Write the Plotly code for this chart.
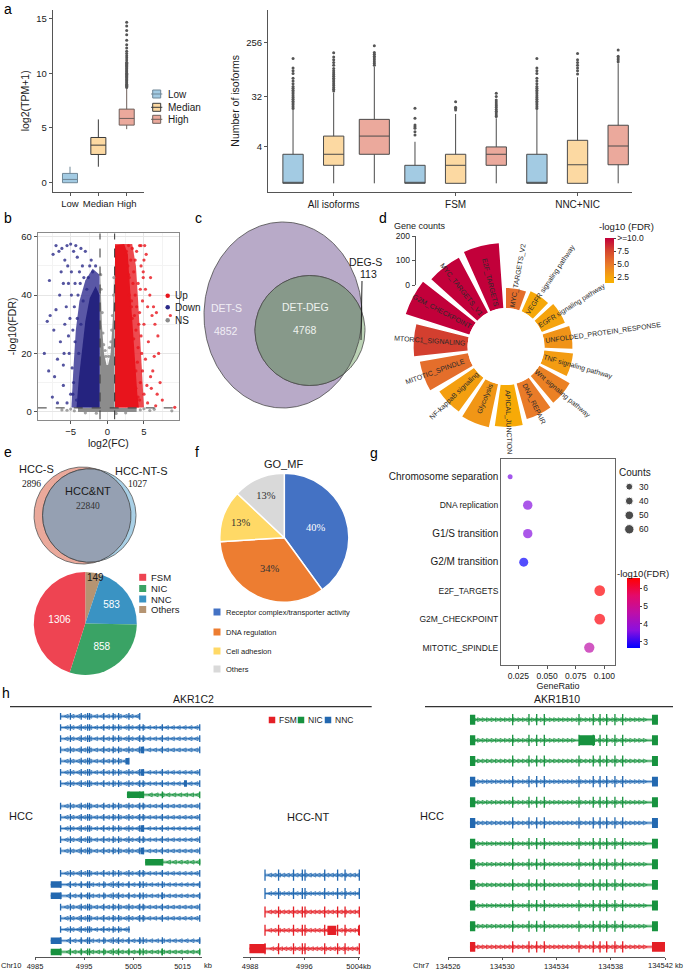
import numpy as np
import plotly.graph_objects as go

W, H = 685, 972
FONT = "Arial, Liberation Sans, Helvetica, sans-serif"
SERIF = "Times New Roman, Liberation Serif, serif"
INK = "#1a1a1a"

# ============================ DATA ============================
# ---- a (left): log2(TPM+1) by expression level
a1_levels = ["Low", "Median", "High"]
a1_q1 = [0.00, 2.58, 5.26]
a1_med = [0.30, 3.43, 5.87]
a1_q3 = [0.85, 4.13, 6.72]
a1_lo = [0.00, 1.46, 4.89]
a1_hi = [1.46, 5.78, 8.60]
a1_high_out = [8.70, 8.80, 8.90, 9.00, 9.10, 9.20, 9.30, 9.40, 9.50, 9.60, 9.70, 9.80,
               9.90, 10.00, 10.10, 10.20, 10.30, 10.40, 10.50, 10.60, 10.70, 10.80, 10.90,
               11.00, 11.20, 11.40, 11.60, 11.80, 12.00, 12.30, 12.60, 13.00, 13.50, 13.90,
               14.30, 14.65]

# ---- a (right): number of isoforms (values on log2(n+1) scale), Low/Median/High per group
a2_groups = ["All isoforms", "FSM", "NNC+NIC"]
a2_tick_counts = [4, 32, 256]
a2_q1 = [0.33, 1.31, 1.91, 0.33, 0.33, 1.31, 0.33, 0.33, 1.34]
a2_med = [0.33, 1.91, 2.90, 0.33, 1.31, 1.91, 0.33, 1.34, 2.36]
a2_q3 = [1.91, 2.90, 3.81, 1.31, 1.91, 2.31, 1.91, 2.67, 3.49]
a2_lo = [0.33, 0.33, 0.33, 0.33, 0.33, 0.33, 0.33, 0.33, 0.33]
a2_hi = [4.32, 5.26, 6.67, 2.59, 4.10, 3.87, 4.32, 6.10, 6.86]
a2_out = [
    [4.4, 4.5, 4.6, 4.7, 4.8, 4.9, 5.0, 5.1, 5.2, 5.3, 5.4, 5.5, 5.6, 5.75, 5.9, 6.05, 6.3, 6.45, 6.6, 7.12],
    [5.35, 5.45, 5.55, 5.65, 5.75, 5.85, 5.95, 6.05, 6.15, 6.25, 6.35, 6.45, 6.58, 6.75, 6.9, 7.05, 7.2, 7.44],
    [6.75, 6.85, 6.95, 7.05, 7.15, 7.25, 7.35, 7.45, 7.82],
    [2.96, 3.14, 3.32, 3.41, 3.5, 3.87, 4.41],
    [4.32, 4.4, 4.47, 4.77],
    [3.96, 4.05, 4.15, 4.25, 4.35, 4.45, 4.55, 4.65, 4.75, 4.86, 5.05, 5.23],
    [4.4, 4.5, 4.6, 4.7, 4.8, 4.9, 5.0, 5.1, 5.2, 5.3, 5.4, 5.5, 5.6, 5.75, 5.9, 6.05, 6.3, 6.45, 6.6, 7.12],
    [6.28, 6.45, 6.6, 6.75, 6.9, 7.05, 7.4],
    [6.95, 7.05, 7.15, 7.25, 7.58],
]

# ---- b: volcano (log2FC, -log10 FDR)
fc_cut = 1.0
fdr_cut = 1.3
up_dense = [(1.05, 1.4), (1.05, 57.0), (2.3, 57.5), (2.8, 54.0), (3.0, 46.0), (3.2, 38.0),
            (3.5, 26.0), (3.8, 15.0), (4.1, 6.0), (4.3, 1.4)]
up_mid = [(1.05, 1.4), (1.05, 57.5), (3.4, 57.5), (3.9, 50.0), (4.2, 38.0), (4.5, 24.0),
          (4.8, 12.0), (5.0, 1.4)]
down_dense = [(-1.05, 1.4), (-1.05, 40.0), (-1.6, 43.0), (-2.4, 39.0), (-3.0, 31.0), (-3.5, 21.0),
              (-3.9, 11.0), (-4.2, 1.4)]
down_mid = [(-1.05, 1.4), (-1.05, 47.0), (-2.0, 49.0), (-3.0, 45.0), (-3.8, 38.0), (-4.3, 28.0),
            (-4.6, 16.0), (-4.8, 5.0), (-4.9, 1.4)]
ns_dense = [(-1.0, 1.3), (-0.98, 50.0), (-0.75, 30.0), (-0.45, 20.0), (-0.1, 16.0), (0.1, 16.0),
            (0.45, 20.0), (0.75, 32.0), (0.98, 52.0), (1.0, 1.3), (4.0, 1.3), (4.0, -0.1),
            (-4.0, -0.1), (-4.0, 1.3)]
up_pts = [(4.5, 10), (5.0, 6), (5.5, 3), (6.0, 8), (4.8, 14), (5.2, 18), (4.2, 22), (4.6, 26), (5.0, 30),
          (4.4, 34), (3.8, 40), (4.2, 44), (3.6, 48), (3.2, 52), (4.0, 55), (4.6, 57), (3.4, 56), (2.9, 57),
          (5.6, 24), (6.2, 14), (6.8, 6), (7.2, 10), (6.5, 30), (6.7, 34), (6.3, 36), (8.6, 33), (5.9, 46),
          (5.0, 52), (7.0, 20), (5.8, 40), (4.9, 48), (5.3, 54), (4.9, 46), (5.5, 36), (3.9, 28), (4.1, 17),
          (3.7, 33), (3.5, 44), (2.8, 50), (3.0, 46), (3.3, 38), (6.6, 2), (7.5, 4), (9.2, 1.5), (5.9, 12),
          (4.4, 4), (3.9, 8), (4.4, 57), (5.1, 57), (2.6, 55), (2.5, 54), (2.9, 47), (3.3, 36), (3.6, 25),
          (3.9, 14), (4.2, 5), (3.0, 40), (3.4, 32), (4.7, 20), (4.3, 30), (4.0, 36), (5.2, 42), (4.6, 50),
          (6.1, 33), (6.4, 19), (5.4, 9), (6.9, 26), (4.8, 38), (3.8, 52), (4.5, 42)]
down_pts = [(-4.6, 10), (-5.0, 6), (-5.5, 3), (-6.0, 9), (-4.8, 15), (-5.2, 20), (-4.4, 24), (-4.7, 28),
            (-5.1, 32), (-4.5, 36), (-4.0, 40), (-4.4, 44), (-3.8, 48), (-3.4, 50), (-4.1, 53), (-4.6, 55),
            (-5.5, 57), (-5.0, 57.5), (-5.8, 52), (-6.3, 48), (-6.6, 55), (-7.4, 54), (-6.5, 40), (-7.0, 35),
            (-7.8, 33), (-8.2, 31), (-8.6, 20), (-7.2, 12), (-6.4, 24), (-5.8, 30), (-5.3, 44), (-4.9, 48),
            (-3.2, 46), (-2.8, 42), (-2.0, 48), (-2.4, 50), (-3.0, 55), (-3.6, 56), (-6.0, 16), (-7.5, 5),
            (-6.8, 3), (-4.2, 4), (-3.9, 20), (-3.6, 30), (-3.3, 38), (-2.6, 46), (-5.6, 36), (-6.2, 56),
            (-4.3, 57), (-7.9, 45), (-8.0, 14), (-7.0, 57), (-6.0, 44), (-5.4, 50), (-4.9, 40), (-5.3, 26),
            (-6.8, 18), (-7.3, 28), (-5.9, 20), (-4.7, 6), (-3.7, 44), (-2.2, 52), (-1.6, 50), (-4.1, 32)]
ns_pts = [(-5.5, 0.5), (-5.0, 0.9), (-4.5, 0.3), (4.5, 0.6), (5.0, 1.0), (5.8, 0.4), (6.4, 0.8),
          (8.8, 0.3), (-6.2, 0.6), (0.3, 22), (-0.3, 21), (0.6, 28), (-0.6, 27), (0.85, 40), (-0.85, 42),
          (0.9, 46), (-0.9, 47), (0.2, 19), (-0.2, 19), (0.5, 24), (-0.5, 23), (0.7, 33), (-0.7, 34),
          (-3.0, -0.4), (2.5, -0.4), (-1.5, -0.5), (1.2, -0.6)]

# ---- c: Venn of DET / DEG
c_labels = ["DET-S", "DET-DEG", "DEG-S"]
c_counts = [4852, 4768, 113]

# ---- d: circular enrichment barplot
d_terms = ["MYC_TARGETS_V2", "VEGFR signaling pathway", "EGFR signaling pathway",
           "UNFOLDED_PROTEIN_RESPONSE", "TNF signaling pathway", "Wnt signaling pathway",
           "DNA_REPAIR", "APICAL_JUNCTION", "Glycolysis", "NF-kappaB signaling",
           "MITOTIC_SPINDLE", "MTORC1_SIGNALING", "G2M_CHECKPOINT", "MYC_TARGETS_V1", "E2F_TARGETS"]
d_counts = [82, 90, 102, 114, 118, 143, 151, 171, 180, 171, 200, 220, 273, 253, 265]
d_fdr = [5.5, 2.2, 2.6, 3.5, 3.0, 4.5, 4.8, 2.0, 3.3, 2.8, 5.5, 7.8, 10.0, 10.0, 10.0]
d_count_ticks = [0, 100, 200]
d_fdr_ticks = [2.5, 5.0, 7.5, 10.0]
d_fdr_ticktext = ["2.5", "5.0", "7.5", ">=10.0"]

# ---- e: Venn + pie
e_sets = ["HCC-S", "HCC&NT", "HCC-NT-S"]
e_counts = [2896, 22840, 1027]
e_pie_labels = ["Others", "NNC", "NIC", "FSM"]
e_pie_values = [149, 583, 858, 1306]
e_legend_order = ["FSM", "NIC", "NNC", "Others"]

# ---- f: GO_MF pie
f_labels = ["Receptor complex/transporter activity", "DNA regulation", "Cell adhesion", "Others"]
f_values = [40, 34, 13, 13]

# ---- g: dot plot
g_terms = ["Chromosome separation", "DNA replication", "G1/S transition", "G2/M transition",
           "E2F_TARGETS", "G2M_CHECKPOINT", "MITOTIC_SPINDLE"]
g_ratio = [0.0178, 0.0332, 0.0332, 0.0297, 0.0959, 0.0959, 0.0868]
g_counts = [12, 48, 48, 44, 63, 63, 58]
g_fdr = [3.5, 3.6, 3.6, 2.7, 6.5, 6.45, 4.6]
g_count_legend = [30, 40, 50, 60]
g_xticks = [0.025, 0.050, 0.075, 0.100]

# ---- h: isoform structures (kb)
akr1c2_exons = [4990.2, 4992.2, 4994.4, 4995.7, 4996.1, 4999.0, 5000.9, 5002.0, 5004.1,
                5006.3, 5007.0, 5010.9, 5018.5]
akr1c2_hcc = [
    ("NNC", 4990.2, 5006.3, []),
    ("NNC", 4990.2, 5018.5, []),
    ("NNC", 4990.2, 5018.5, []),
    ("NNC", 4990.2, 5018.5, [(5006.5, 5007.2)]),
    ("NNC", 4990.2, 5004.1, [(5003.4, 5004.1)]),
    ("NNC", 4990.2, 5018.5, [(5006.5, 5007.2)]),
    ("NNC", 4990.2, 5018.5, [(5015.3, 5015.9)]),
    ("NIC", 5003.7, 5018.5, [(5003.7, 5007.2)]),
    ("NNC", 4990.2, 5018.5, []),
    ("NNC", 4990.2, 5018.5, []),
    ("NNC", 4990.2, 5018.5, [(5006.5, 5007.2)]),
    ("NNC", 4990.2, 5018.5, []),
    ("NNC", 4990.2, 5018.5, [(5006.5, 5007.2)]),
    ("NIC", 5007.4, 5018.5, [(5007.4, 5011.1)]),
    ("NNC", 4990.2, 5018.5, []),
    ("NNC", 4988.2, 5018.5, [(4988.2, 4990.4)]),
    ("NNC", 4988.2, 5018.5, [(4988.2, 4990.4), (5010.7, 5011.0)]),
    ("NNC", 4990.2, 5018.5, []),
    ("NNC", 4990.2, 5018.5, []),
    ("NNC", 4990.2, 5004.3, []),
    ("NNC", 4988.2, 5018.5, [(4988.2, 4990.4)]),
    ("NIC", 4988.2, 5018.5, [(4988.2, 4990.4), (5010.7, 5011.0)]),
]
akr1c2_nt = [
    ("NNC", 4990.2, 5004.1, []),
    ("NNC", 4990.2, 5004.1, []),
    ("FSM", 4990.2, 5004.1, []),
    ("FSM", 4990.2, 5004.1, [(4999.4, 5000.7), (5003.9, 5004.1)]),
    ("FSM", 4987.9, 5004.1, [(4987.9, 4990.3)]),
]
akr1b10_exons = [134530.77, 134531.97, 134532.54, 134533.10, 134535.66, 134536.71, 134537.21,
                 134537.70, 134538.31, 134538.88]
akr1b10_first = (134527.62, 134528.01)
akr1b10_last = (134541.04, 134541.48)
akr1b10_types = ["NIC", "NIC", "NIC", "NNC", "NIC", "NNC", "NIC", "NIC", "NIC", "NIC", "NIC", "FSM"]
akr1b10_extra = {2: [(134535.66, 134536.84)], 12: [(134541.04, 134542.0)]}
akr1b10_ticks = [134526, 134530, 134534, 134538, 134542]

# ============================ HELPERS ============================
def dx(a, b):
    return [a / W, b / W]

def dy(top, bottom):
    return [1 - bottom / H, 1 - top / H]

fig = go.Figure()
ann = []

def T(x, y, s, size=10, color=INK, family=FONT, xa="center", ya="middle", angle=0):
    ann.append(dict(x=x, y=y, xref="x12", yref="y12", text=s, showarrow=False,
                    font=dict(size=size, color=color, family=family),
                    xanchor=xa, yanchor=ya, textangle=angle))

def OV(**kw):
    kw.setdefault("hoverinfo", "skip")
    kw.setdefault("showlegend", False)
    fig.add_trace(go.Scatter(xaxis="x12", yaxis="y12", **kw))

def ax(**kw):
    base = dict(showgrid=False, zeroline=False, showline=True, linecolor="#555", linewidth=1,
                ticks="outside", ticklen=3, tickcolor="#555", automargin=False, tickangle=0,
                tickfont=dict(size=9.5, color=INK, family=FONT))
    base.update(kw)
    return base

LVL_FILL = ["#a3cbe3", "#fcd9a2", "#eba99c"]
LVL_LINE = ["#6f8797", "#3a3a3a", "#6e5f5b"]

# ============================ a (left) ============================
for i, lev in enumerate(a1_levels):
    fig.add_trace(go.Box(x=[i + 1], q1=[a1_q1[i]], median=[a1_med[i]], q3=[a1_q3[i]],
                         lowerfence=[a1_lo[i]], upperfence=[a1_hi[i]], fillcolor=LVL_FILL[i],
                         line=dict(color=LVL_LINE[i], width=1), width=0.53, whiskerwidth=0,
                         boxpoints=False, xaxis="x", yaxis="y", showlegend=False, hoverinfo="skip"))
fig.add_trace(go.Scatter(x=[3] * len(a1_high_out), y=a1_high_out, mode="markers",
                         marker=dict(size=3, color="#555"), xaxis="x", yaxis="y",
                         showlegend=False, hoverinfo="skip"))

# ============================ a (right) ============================
a2_pos = list(range(1, 10))
for j in range(9):
    wdt = 0.74 if j == 2 else 0.5
    fig.add_trace(go.Box(x=[a2_pos[j]], q1=[a2_q1[j]], median=[a2_med[j]], q3=[a2_q3[j]],
                         lowerfence=[a2_lo[j]], upperfence=[a2_hi[j]], fillcolor=LVL_FILL[j % 3],
                         line=dict(color="#4a4a4a", width=1), width=wdt, whiskerwidth=0,
                         boxpoints=False, xaxis="x2", yaxis="y2", showlegend=False, hoverinfo="skip"))
    fig.add_trace(go.Scatter(x=[a2_pos[j]] * len(a2_out[j]), y=a2_out[j], mode="markers",
                             marker=dict(size=3, color="#555"), xaxis="x2", yaxis="y2",
                             showlegend=False, hoverinfo="skip"))

# ============================ b volcano ============================
def poly(pts, color, op):
    xs = [p[0] for p in pts] + [pts[0][0]]
    ys = [p[1] for p in pts] + [pts[0][1]]
    fig.add_trace(go.Scatter(x=xs, y=ys, fill="toself", fillcolor=color, opacity=op, mode="lines",
                             line=dict(width=0), xaxis="x3", yaxis="y3", showlegend=False,
                             hoverinfo="skip"))

def pts_trace(pts, color):
    fig.add_trace(go.Scatter(x=[p[0] for p in pts], y=[p[1] for p in pts], mode="markers",
                             marker=dict(size=3.2, color=color, opacity=0.8), xaxis="x3", yaxis="y3",
                             showlegend=False, hoverinfo="skip"))

poly(ns_dense, "#8c8c8c", 1.0)
poly(up_mid, "#ea2a30", 0.85)
poly(down_mid, "#3d3b96", 0.85)
poly(up_dense, "#e8141c", 1.0)
poly(down_dense, "#25237f", 1.0)
pts_trace(ns_pts, "#8c8c8c")
pts_trace(up_pts, "#e8141c")
pts_trace(down_pts, "#2b2a88")
for xv in (-fc_cut, fc_cut):
    fig.add_trace(go.Scatter(x=[xv, xv], y=[-2.68, 61.2], mode="lines",
                             line=dict(color="#333", width=1, dash="dash"), xaxis="x3", yaxis="y3",
                             showlegend=False, hoverinfo="skip"))
fig.add_trace(go.Scatter(x=[-9.5, 9.78], y=[fdr_cut, fdr_cut], mode="lines",
                         line=dict(color="#333", width=1, dash="dash"), xaxis="x3", yaxis="y3",
                         showlegend=False, hoverinfo="skip"))

# ============================ c Venn ============================
def ell(cx, cy, rx, ry, n=360):
    t = np.linspace(0, 2 * np.pi, n)
    return cx + rx * np.cos(t), cy + ry * np.sin(t)

def lens(a, b):
    x1, y1 = ell(*a, n=720)
    x2, y2 = ell(*b, n=720)
    in1 = ((x1 - b[0]) / b[2]) ** 2 + ((y1 - b[1]) / b[3]) ** 2 <= 1
    in2 = ((x2 - a[0]) / a[2]) ** 2 + ((y2 - a[1]) / a[3]) ** 2 <= 1
    xs = np.concatenate([x1[in1], x2[in2]])
    ys = np.concatenate([y1[in1], y2[in2]])
    o = np.argsort(np.arctan2(ys - ys.mean(), xs - xs.mean()))
    xs, ys = xs[o], ys[o]
    return list(xs) + [xs[0]], list(ys) + [ys[0]]

def fill_shape(xs, ys, fc, lc="#4a4a4a", lw=0.8):
    OV(x=list(xs), y=list(ys), mode="lines", fill="toself", fillcolor=fc, line=dict(color=lc, width=lw))

C_DET = (283.0, 315.0, 79.0, 93.0)
C_DEG = (310.0, 330.5, 55.0, 55.0)
fill_shape(*ell(*C_DET), "#b8aac8")
fill_shape(*ell(*C_DEG), "#bcd3b6")
fill_shape(*lens(C_DET, C_DEG), "#87998a")
T(226, 308, c_labels[0], 10.5, "#f1eef5")
T(226, 331, f"{c_counts[0]}", 10.5, "#f1eef5")
T(305, 307, c_labels[1], 10.5, "#eef2ee")
T(305, 330, f"{c_counts[1]}", 10.5, "#eef2ee")
T(365, 262, c_labels[2], 10.5)
T(368, 274, f"{c_counts[2]}", 10.5)
OV(x=[362, 361], y=[281, 340], mode="lines", line=dict(color="#222", width=1))

# ============================ d circular bars ============================
CX, CY, R_IN, R_OUT = 506.0, 346.5, 38.5, 110.5
R_MAX = 294.0
d_theta = [10 + 24 * i for i in range(len(d_terms))]
d_scale = [[0.0, "#f9b200"], [0.15, "#f5a20e"], [0.42, "#e8782a"], [0.72, "#d5452e"], [1.0, "#c2003a"]]
fig.add_trace(go.Barpolar(r=d_counts, theta=d_theta, width=[20] * len(d_terms),
                          marker=dict(color=d_fdr, colorscale=d_scale, cmin=1.35, cmax=10.0,
                                      line=dict(width=0), showscale=True,
                                      colorbar=dict(x=605 / W, xanchor="left", y=1 - 260.5 / H,
                                                    yanchor="middle", len=45, lenmode="pixels",
                                                    thickness=9, xpad=0, ypad=0, outlinewidth=0,
                                                    tickvals=d_fdr_ticks, ticktext=d_fdr_ticktext,
                                                    ticks="outside", ticklen=2,
                                                    tickfont=dict(size=8.5, color=INK, family=FONT))),
                          subplot="polar", showlegend=False, hoverinfo="skip"))

def text_w(s, size):
    w = 0.0
    for ch in s:
        if ch.isupper():
            w += 0.66
        elif ch.isdigit() or ch == "_":
            w += 0.55
        elif ch == " ":
            w += 0.28
        elif ch == "-":
            w += 0.33
        elif ch in "ilj":
            w += 0.23
        else:
            w += 0.5
    return w * size

for term, th in zip(d_terms, d_theta):
    L = text_w(term, 7)
    r = 41 + L / 2
    rad = np.deg2rad(th)
    xx = CX + r * np.sin(rad)
    yy = CY - r * np.cos(rad)
    ang = th - 90 if th < 180 else th - 270
    T(xx, yy, term, 7, "#2a2a2a", angle=ang)
T(392, 226, "Gene counts", 9, xa="left")
T(597, 226, "-log10 (FDR)", 9.5, xa="left")
fig.add_trace(go.Scatter(x=[0, 0], y=[0, 200], mode="lines", line=dict(width=0, color="rgba(0,0,0,0)"),
                         xaxis="x5", yaxis="y5", showlegend=False, hoverinfo="skip"))

# ============================ e Venn + pie ============================
k_e = 48.5 / np.sqrt(e_counts[0] + e_counts[1])
r_s = k_e * np.sqrt(e_counts[0] + e_counts[1])
r_nt = k_e * np.sqrt(e_counts[2] + e_counts[1])
E_S = (34.0 + r_s, 515.5, r_s, r_s)
E_NT = (136.0 - r_nt, 515.5, r_nt, r_nt)
fill_shape(*ell(*E_S), "#eaa99b", "#555")
fill_shape(*ell(*E_NT), "#a9d0e6", "#555")
fill_shape(*lens(E_S, E_NT), "#95a0b2", "#444")
T(36, 469, e_sets[0], 11)
T(31, 484, f"{e_counts[0]}", 9.5, family=SERIF)
T(88, 491, e_sets[1], 11)
T(88, 506, f"{e_counts[1]}", 9.5, "#333", family=SERIF)
T(141, 471, e_sets[2], 11)
T(137.5, 484, f"{e_counts[2]}", 9.5, family=SERIF)

E_COLOR = {"FSM": "#ee4452", "NIC": "#3aa365", "NNC": "#3a93c3", "Others": "#b59472"}
fig.add_trace(go.Pie(labels=e_pie_labels, values=e_pie_values, sort=False, direction="clockwise",
                     rotation=0, marker=dict(colors=[E_COLOR[l] for l in e_pie_labels], line=dict(width=0)),
                     domain=dict(x=dx(33.8, 136.8), y=dy(572, 675)),
                     texttemplate=["" if l == "Others" else "%{value}" for l in e_pie_labels],
                     textposition="inside", insidetextorientation="horizontal",
                     textfont=dict(color="white", size=10, family=FONT),
                     showlegend=False, hoverinfo="skip"))
T(95.5, 577, f"{e_pie_values[0]}", 10)
for i, lab in enumerate(e_legend_order):
    yy = [577.3, 588.5, 599, 609.5][i]
    OV(x=[142.7], y=[yy], mode="markers", marker=dict(symbol="square", size=7, color=E_COLOR[lab]))
    T(148.5, yy, lab, 9.5, xa="left")

# ============================ f pie ============================
F_COLORS = ["#4472c4", "#ed7d31", "#ffd966", "#d9d9d9"]
fig.add_trace(go.Pie(labels=f_labels, values=f_values, sort=False, direction="clockwise", rotation=0,
                     marker=dict(colors=F_COLORS, line=dict(color="white", width=1.5)),
                     domain=dict(x=dx(219.8, 348.8), y=dy(473.2, 602.2)),
                     texttemplate="%{value}%", textposition="inside",
                     insidetextorientation="horizontal",
                     textfont=dict(color=["white", "#333", "#333", "#333"], size=10.5, family=SERIF),
                     showlegend=False, hoverinfo="skip"))
T(283.5, 464, "GO_MF", 11)
for i, lab in enumerate(f_labels):
    yy = [612, 632, 651, 669][i]
    OV(x=[217], y=[yy], mode="markers", marker=dict(symbol="square", size=7, color=F_COLORS[i]))
    T(224, yy, lab, 7.5, xa="left")

# ============================ g dot plot ============================
def g_size(c):
    return 1.27 * np.sqrt(np.asarray(c, dtype=float)) + 0.6

g_scale = [[0.0, "#0000ff"], [0.25, "#8a10e0"], [0.5, "#bd0fa8"], [0.75, "#e40a6a"], [1.0, "#ff0000"]]
fig.add_trace(go.Scatter(x=g_ratio, y=list(range(len(g_terms))), mode="markers",
                         marker=dict(size=g_size(g_counts), color=g_fdr, colorscale=g_scale,
                                     cmin=2.63, cmax=6.56, line=dict(width=0), showscale=True,
                                     colorbar=dict(x=626.7 / W, xanchor="left", y=1 - 613.3 / H,
                                                   yanchor="middle", len=70, lenmode="pixels",
                                                   thickness=13, xpad=0, ypad=0, outlinewidth=0,
                                                   tickvals=[3, 4, 5, 6], ticks="outside", ticklen=2,
                                                   tickfont=dict(size=8.5, color=INK, family=FONT))),
                         xaxis="x7", yaxis="y7", showlegend=False, hoverinfo="skip"))
T(635, 472, "Counts", 10)
g_leg_y = [486.7, 501, 515.3, 529.3]
OV(x=[629.3] * 4, y=g_leg_y, mode="markers",
   marker=dict(size=g_size(g_count_legend) * 0.9, color="black"))
for c, yy in zip(g_count_legend, g_leg_y):
    T(637, yy, str(c), 8.5, xa="left")
T(643, 573, "-log10(FDR)", 9.5)
big_terms = {"Chromosome separation", "G1/S transition", "G2/M transition"}
g_ticktext = [f"<span style='font-size:10px'>{t}</span>" if t in big_terms else t for t in g_terms]

# ============================ h tracks ============================
TYPE_COL = {"FSM": "#e41f26", "NIC": "#17923f", "NNC": "#2368b0"}
TYPE_HALO = {"FSM": "#f6b0b3", "NIC": "#a7d8b5", "NNC": "#a9c8e6"}

def add_track(rows, exons, xa, ya, eh, bh, step, sym, lw_exon=1.3):
    for t in ["NNC", "NIC", "FSM"]:
        sel = [(i + 1, r) for i, r in enumerate(rows) if r[0] == t]
        if not sel:
            continue
        lx, ly, ex, ey, bx, by, cx, cy = [], [], [], [], [], [], [], []
        for k, (typ, s, e, blocks) in sel:
            lx += [s, e, None]
            ly += [k, k, None]
            for p in exons:
                if s - 1e-6 <= p <= e + 1e-6:
                    ex += [p, p, None]
                    ey += [k - eh, k + eh, None]
            for (b0, b1) in blocks:
                bx += [b0, b1, b1, b0, b0, None]
                by += [k - bh, k - bh, k + bh, k + bh, k - bh, None]
            for c in np.arange(s + step * 0.6, e - step * 0.3, step):
                if not any(b0 - 0.1 <= c <= b1 + 0.1 for b0, b1 in blocks):
                    cx.append(float(c))
                    cy.append(k)
        common = dict(xaxis=xa, yaxis=ya, showlegend=False, hoverinfo="skip")
        fig.add_trace(go.Scatter(x=lx, y=ly, mode="lines", line=dict(color=TYPE_HALO[t], width=3.2), **common))
        fig.add_trace(go.Scatter(x=lx, y=ly, mode="lines", line=dict(color=TYPE_COL[t], width=0.9), **common))
        fig.add_trace(go.Scatter(x=ex, y=ey, mode="lines", line=dict(color=TYPE_COL[t], width=lw_exon), **common))
        fig.add_trace(go.Scatter(x=cx, y=cy, mode="markers",
                                 marker=dict(symbol=sym, size=4, color=TYPE_COL[t],
                                             line=dict(color=TYPE_COL[t], width=0.7)), **common))
        if bx:
            fig.add_trace(go.Scatter(x=bx, y=by, mode="lines", fill="toself", fillcolor=TYPE_COL[t],
                                     line=dict(width=0, color=TYPE_COL[t]), **common))

add_track(akr1c2_hcc, akr1c2_exons, "x9", "y9", 0.3, 0.29, 1.2, "arrow-left-open")
add_track(akr1c2_nt, akr1c2_exons, "x10", "y10", 0.3, 0.25, 0.65, "arrow-left-open")
b10_rows = []
for i, t in enumerate(akr1b10_types):
    blocks = [akr1b10_first, akr1b10_last] + akr1b10_extra.get(i + 1, [])
    b10_rows.append((t, akr1b10_first[0], akr1b10_last[1], blocks))
add_track(b10_rows, akr1b10_exons, "x11", "y11", 0.27, 0.24, 0.33, "arrow-right-open")

OV(x=[10, 371.7, None, 425, 673], y=[706.7, 706.7, None, 706.7, 706.7], mode="lines",
   line=dict(color="#333", width=1.2))
T(193, 699, "AKR1C2", 10.5)
T(557, 699, "AKR1B10", 10.5)
T(21, 816, "HCC", 11)
T(308, 817, "HCC-NT", 11)
T(432, 816, "HCC", 11)
T(11, 965, "Chr10", 7.5)
T(208, 965, "kb", 7.5)
T(421, 965, "Chr7", 7.5)
T(685, 965, f"{akr1b10_ticks[-1]} kb", 7.5, xa="right")
for i, t in enumerate(["FSM", "NIC", "NNC"]):
    xx = [272, 301, 328][i]
    OV(x=[xx], y=[720], mode="markers", marker=dict(symbol="square", size=6.5, color=TYPE_COL[t]))
    T(xx + 5, 720, t, 8.5, xa="left")

# ============================ legends a / b ============================
for i, lev in enumerate(a1_levels):
    yy = [94, 107.3, 119.3][i]
    OV(x=[156.7], y=[yy], mode="markers",
       marker=dict(symbol="square", size=8, color=LVL_FILL[i], line=dict(color=LVL_LINE[i], width=1)))
    OV(x=[156.7], y=[yy], mode="markers",
       marker=dict(symbol="line-ew", size=8, line=dict(color=LVL_LINE[i], width=1)))
    T(165.5, yy, lev, 10, xa="left")
for lab, col, yy in zip(["Up", "Down", "NS"], ["#e8141c", "#2b2a88", "#8c8c8c"], [295.7, 307.3, 320.3]):
    OV(x=[167.7], y=[yy], mode="markers", marker=dict(size=4.5, color=col))
    T(173, yy, lab, 10, xa="left")

# panel letters
for s, x, y in [("a", 8, 9), ("b", 8, 218), ("c", 198, 218), ("d", 383, 218), ("e", 8, 452),
                ("f", 197, 452), ("g", 374, 453), ("h", 6, 693)]:
    T(x, y, s, 14, "black")

# ============================ LAYOUT ============================
TRK_TICK = dict(size=7.5, color=INK)
layout = dict(
    width=W, height=H, margin=dict(l=0, r=0, t=0, b=0, autoexpand=False), paper_bgcolor="white",
    plot_bgcolor="rgba(0,0,0,0)", font=dict(family=FONT, color=INK), showlegend=False,
    annotations=ann,
    # a left
    xaxis=ax(domain=dx(52.7, 144), range=[0.39, 3.61], tickvals=[1, 2, 3], ticktext=a1_levels,
             tickfont=dict(size=9.5, color=INK), anchor="y"),
    yaxis=ax(domain=dy(10, 191.7), range=[-0.82, 15.77], tickvals=[0, 5, 10, 15], anchor="x",
             title=dict(text="log2(TPM+1)", font=dict(size=10.5), standoff=4)),
    # a right
    xaxis2=ax(domain=dx(268, 632), range=[0.384, 9.34], tickvals=[2, 5, 8], ticktext=a2_groups,
              tickfont=dict(size=10, color=INK), anchor="y2"),
    yaxis2=ax(domain=dy(10, 191.7), range=[-0.126, 9.76],
              tickvals=list(np.log2(np.array(a2_tick_counts) + 1.0)),
              ticktext=[str(v) for v in a2_tick_counts], anchor="x2",
              title=dict(text="Number of isoforms", font=dict(size=10.5), standoff=4)),
    # b volcano
    xaxis3=ax(domain=dx(37.7, 179), range=[-9.5, 9.78], tickmode="linear", tick0=0, dtick=5,
              showgrid=True, gridcolor="#e6e6e6", mirror=True, linecolor="#8a8a8a",
              minor=dict(dtick=2.5, showgrid=True, gridcolor="#f3f3f3"), anchor="y3",
              title=dict(text="log2(FC)", font=dict(size=10.5), standoff=2)),
    yaxis3=ax(domain=dy(233.3, 419.5), range=[-2.68, 61.2], tickmode="linear", tick0=0, dtick=20,
              showgrid=True, gridcolor="#e6e6e6", mirror=True, linecolor="#8a8a8a",
              minor=dict(dtick=10, showgrid=True, gridcolor="#f3f3f3"), anchor="x3",
              title=dict(text="-log10(FDR)", font=dict(size=10.5), standoff=2)),
    # d gene count scale
    xaxis5=dict(domain=dx(415.7, 417), visible=False, range=[-1, 1], anchor="y5", automargin=False),
    yaxis5=ax(domain=dy(236, 285), range=[0, 200], tickvals=d_count_ticks, anchor="x5",
              tickfont=dict(size=8.5, color=INK)),
    # g dot plot
    xaxis7=ax(domain=dx(501, 615), range=[0.0099, 0.1092], tickvals=g_xticks,
              ticktext=["0.025", "0.050", "0.075", "0.100"], mirror=True, linecolor="#666",
              tickfont=dict(size=8.5, color=INK), anchor="y7",
              title=dict(text="GeneRatio", font=dict(size=9), standoff=0)),
    yaxis7=ax(domain=dy(459.3, 665), range=[6.61, -0.61], tickvals=list(range(len(g_terms))),
              ticktext=g_ticktext, mirror=True, linecolor="#666", ticks="",
              tickfont=dict(size=8.5, color=INK), anchor="x7"),
    # h tracks
    xaxis9=ax(domain=dx(35, 201.7), range=[4985.0, 5018.9], tickvals=[4985, 4995, 5005, 5015],
              tickfont=TRK_TICK, ticklen=2, anchor="y9"),
    yaxis9=dict(domain=dy(710, 957), range=[22.45, 0.44], visible=False, anchor="x9", automargin=False),
    xaxis10=ax(domain=dx(243.3, 360), range=[4987.0, 5004.2], tickvals=[4988, 4996, 5004],
               ticktext=["4988", "4996", "5004kb"], tickfont=TRK_TICK, ticklen=2, anchor="y10"),
    yaxis10=dict(domain=dy(858, 957), range=[5.45, 0.07], visible=False, anchor="x10", automargin=False),
    xaxis11=ax(domain=dx(448, 665), range=[134526.0, 134542.0],
               tickvals=akr1b10_ticks,
               ticktext=[str(v) for v in akr1b10_ticks[:-1]] + [""],
               tickfont=TRK_TICK, ticklen=2, anchor="y11"),
    yaxis11=dict(domain=dy(711, 957), range=[12.49, 0.58], visible=False, anchor="x11", automargin=False),
    # overlay (pixel space)
    xaxis12=dict(domain=[0, 1], range=[0, W], visible=False, anchor="y12", fixedrange=True, automargin=False),
    yaxis12=dict(domain=[0, 1], range=[H, 0], visible=False, anchor="x12", fixedrange=True, automargin=False),
    polar=dict(domain=dict(x=dx(CX - R_OUT, CX + R_OUT), y=dy(CY - R_OUT, CY + R_OUT)),
               hole=R_IN / R_OUT, bgcolor="rgba(0,0,0,0)",
               radialaxis=dict(visible=False, range=[0, R_MAX]),
               angularaxis=dict(visible=False, rotation=90, direction="clockwise")),
)
fig.update_layout(**layout)
fig.write_html("out.html", config={"displayModeBar": False, "staticPlot": True},
               post_script="document.body.style.margin='0';document.body.style.padding='0';"
                           "document.documentElement.style.overflow='hidden';")
